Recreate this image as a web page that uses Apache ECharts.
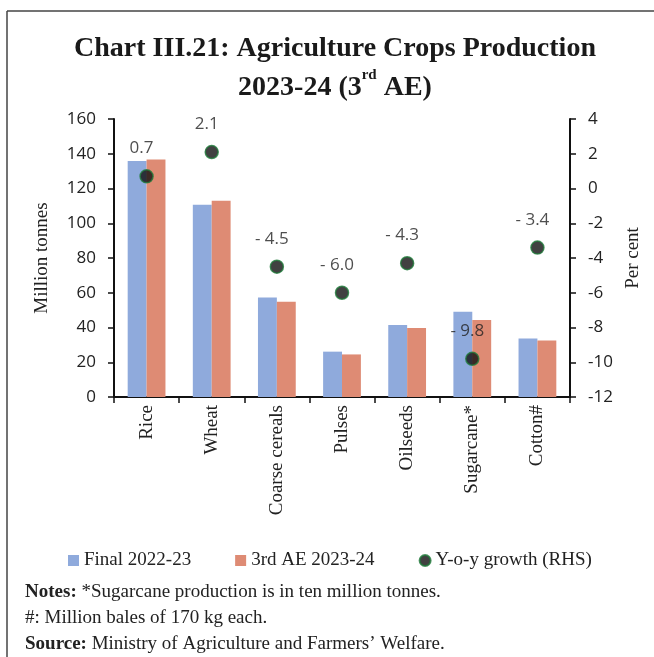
<!DOCTYPE html>
<html><head><meta charset="utf-8">
<script src="https://cdn.jsdelivr.net/npm/echarts@6/dist/echarts.min.js"></script>
<style>html,body{margin:0;padding:0;background:#fff}#c{width:654px;height:657px}</style>
</head><body><div id="c"></div>
<script>
const categories = ['Rice', 'Wheat', 'Coarse cereals', 'Pulses', 'Oilseeds', 'Sugarcane*', 'Cotton#'];
const final2022 = [135.8, 110.6, 57.3, 26.1, 41.4, 49.1, 33.7];
const ae2023 = [136.7, 112.9, 54.8, 24.5, 39.7, 44.3, 32.5];
const growth = [0.7, 2.1, -4.5, -6.0, -4.3, -9.8, -3.4];
const leftTicks = [0, 160, 20];
const rightTicks = [-12, 4, 2];

const serif = 'Liberation Serif';
const sans = 'Open Sans';
const chart = echarts.init(document.getElementById('c'));
chart.setOption({
  animation: false,
  title: {
    text: 'Chart III.21: Agriculture Crops Production\n2023-24 (3{sup|rd} AE)',
    left: 330, textAlign: 'center', top: 24,
    textStyle: {
      fontFamily: serif, fontWeight: 'bold', fontSize: 28, color: '#1a1a1a', lineHeight: 39,
      rich: { sup: { fontFamily: serif, fontWeight: 'bold', fontSize: 15, verticalAlign: 'top', padding: [0,0,12,0], color: '#1a1a1a' } }
    }
  },
  grid: { left: 114, right: 84, top: 119, bottom: 260 },
  legend: {
    left: 63, top: 546, itemWidth: 11, itemHeight: 11, itemGap: 44,
    textStyle: { fontFamily: serif, fontSize: 19, color: '#222' },
    data: [
      { name: 'Final 2022-23', icon: 'rect' },
      { name: '3rd AE 2023-24', icon: 'rect' },
      { name: 'Y-o-y growth (RHS)', icon: 'circle' }
    ]
  },
  xAxis: {
    type: 'category', data: categories,
    axisLine: { lineStyle: { color: '#111', width: 2 } },
    axisTick: { show: true, length: 6, lineStyle: { color: '#111', width: 1.5 } },
    axisLabel: { rotate: 90, margin: 8, fontFamily: serif, fontSize: 19, color: '#222' }
  },
  yAxis: [
    {
      type: 'value', min: leftTicks[0], max: leftTicks[1], interval: leftTicks[2],
      name: 'Million tonnes', nameLocation: 'middle', nameGap: 62, nameRotate: 90,
      nameTextStyle: { fontFamily: serif, fontSize: 19, color: '#222' },
      axisLine: { show: true, lineStyle: { color: '#111', width: 2 } },
      axisTick: { show: true, length: 6, lineStyle: { color: '#111', width: 1.5 } },
      axisLabel: { margin: 18, fontFamily: sans, fontSize: 17, color: '#222' },
      splitLine: { show: false }
    },
    {
      type: 'value', min: rightTicks[0], max: rightTicks[1], interval: rightTicks[2],
      name: 'Per cent', nameLocation: 'middle', nameGap: 53, nameRotate: 90,
      nameTextStyle: { fontFamily: serif, fontSize: 19, color: '#222' },
      axisLine: { show: true, lineStyle: { color: '#111', width: 2 } },
      axisTick: { show: true, length: 6, lineStyle: { color: '#111', width: 1.5 } },
      axisLabel: { margin: 18, fontFamily: sans, fontSize: 17, color: '#222' },
      splitLine: { show: false }
    }
  ],
  series: [
    { name: 'Final 2022-23', type: 'bar', data: final2022, barGap: '0%', barCategoryGap: '42%',
      itemStyle: { color: '#8FAADC' } },
    { name: '3rd AE 2023-24', type: 'bar', data: ae2023, barGap: '0%', barCategoryGap: '42%',
      itemStyle: { color: '#DE8B74' } },
    { name: 'Y-o-y growth (RHS)', type: 'scatter', yAxisIndex: 1, data: growth, symbolSize: 13,
      itemStyle: { color: '#111', borderColor: '#1f7a3a', borderWidth: 1.5 },
      label: { show: true, position: 'top', distance: 12, offset: [-5, 0], fontFamily: sans, fontSize: 17, color: '#222',
        formatter: p => p.value < 0 ? '- ' + Math.abs(p.value).toFixed(1) : p.value.toFixed(1) } }
  ],
  graphic: [
    { type: 'line', shape: { x1: 7, y1: 11, x2: 654, y2: 11 }, style: { stroke: '#444', lineWidth: 1.5 } },
    { type: 'line', shape: { x1: 7, y1: 11, x2: 7, y2: 657 }, style: { stroke: '#444', lineWidth: 1.5 } },
    { type: 'text', left: 25, top: 583, style: { text: '{b|Notes:} *Sugarcane production is in ten million tonnes.',
      fontFamily: serif, fontSize: 19, fill: '#222', rich: { b: { fontFamily: serif, fontSize: 19, fontWeight: 'bold', fill: '#222' } } } },
    { type: 'text', left: 25, top: 609, style: { text: '#: Million bales of 170 kg each.', fontFamily: serif, fontSize: 19, fill: '#222' } },
    { type: 'text', left: 25, top: 635, style: { text: '{b|Source:} Ministry of Agriculture and Farmers\u2019 Welfare.',
      fontFamily: serif, fontSize: 19, fill: '#222', rich: { b: { fontFamily: serif, fontSize: 19, fontWeight: 'bold', fill: '#222' } } } }
  ]
});
</script></body></html>
